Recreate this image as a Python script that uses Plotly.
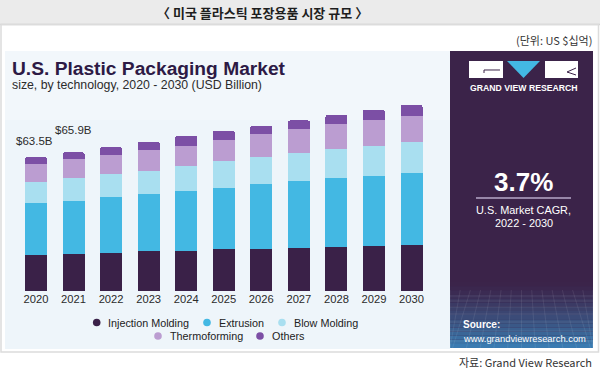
import plotly.graph_objects as go

# ---------------- data ----------------
years = ["2020", "2021", "2022", "2023", "2024", "2025", "2026", "2027", "2028", "2029", "2030"]
injection_molding = [17.1, 17.6, 18.0, 18.9, 19.1, 19.8, 19.8, 20.3, 20.9, 21.4, 21.9]
extrusion = [24.5, 25.3, 26.5, 27.1, 28.5, 29.3, 30.9, 32.0, 32.6, 33.4, 34.3]
blow_molding = [10.0, 10.6, 11.1, 11.2, 11.9, 12.7, 12.8, 13.2, 13.8, 14.2, 14.4]
thermoforming = [8.5, 9.0, 9.0, 9.8, 9.5, 10.0, 10.9, 11.4, 11.9, 12.2, 12.6]
others = [3.4, 3.4, 3.7, 3.9, 4.7, 4.3, 4.1, 4.1, 4.4, 4.8, 5.1]
series_names = ["Injection Molding", "Extrusion", "Blow Molding", "Thermoforming", "Others"]
total_labels = ["$63.5B", "$65.9B"]  # shown above the first two bars

header_title = "〈 미국 플라스틱 포장용품 시장 규모 〉"
unit_text = "(단위: US $십억)"
source_text = "자료: Grand View Research"
chart_title = "U.S. Plastic Packaging Market"
chart_subtitle = "size, by technology, 2020 - 2030 (USD Billion)"
cagr_value = "3.7%"

# ---------------- styling ----------------
W, H = 600, 370
FONT = "Liberation Sans, Arial, sans-serif"
KFONT = "Noto Sans CJK KR, sans-serif"
colors = ["#3a2148", "#43b8e3", "#a9dff0", "#bb9dd1", "#7c4fa5"]
panel_dark = "#3b2349"


def px(x):
    return x / W


def py(y):
    return 1 - y / H


series = [injection_molding, extrusion, blow_molding, thermoforming, others]

fig = go.Figure()
for name, vals, col in zip(series_names, series, colors):
    fig.add_trace(go.Bar(
        x=years, y=vals, name=name,
        marker=dict(color=col, line=dict(width=0)),
        showlegend=False, hoverinfo="x+y+name",
    ))

totals = [round(sum(v), 1) for v in zip(*series)]

shapes = []
annotations = []

# header bar
shapes.append(dict(type="rect", xref="paper", yref="paper", x0=0, x1=1, y0=py(24.5), y1=1,
                   fillcolor="#ebebeb", line=dict(width=0), layer="below"))
shapes.append(dict(type="line", xref="paper", yref="paper", x0=0, x1=1, y0=py(24.5), y1=py(24.5),
                   line=dict(color="#d2d2d2", width=1.5), layer="below"))
# outer box
shapes.append(dict(type="rect", xref="paper", yref="paper", x0=px(1), x1=px(598.5), y0=py(352), y1=py(24.5),
                   fillcolor="rgba(0,0,0,0)", line=dict(color="#dcdcdc", width=1.5), layer="below"))
# light chart panel
shapes.append(dict(type="rect", xref="paper", yref="paper", x0=px(5), x1=px(450), y0=py(349), y1=py(51),
                   fillcolor="#eef5fa", line=dict(width=0), layer="below"))
shapes.append(dict(type="rect", xref="paper", yref="paper", x0=px(5), x1=px(450), y0=py(120), y1=py(51),
                   fillcolor="#f2f7fb", line=dict(width=0), layer="below"))
# dark side panel
shapes.append(dict(type="rect", xref="paper", yref="paper", x0=px(450), x1=px(593), y0=py(348), y1=py(51),
                   fillcolor=panel_dark, line=dict(width=0), layer="below"))


def lerp(c1, c2, t):
    a = [int(c1[i:i + 2], 16) for i in (1, 3, 5)]
    b = [int(c2[i:i + 2], 16) for i in (1, 3, 5)]
    return "rgb(%d,%d,%d)" % tuple(round(a[k] + (b[k] - a[k]) * t) for k in range(3))


n_strips = 16
top_g, bot_g = 282.0, 348.0
for i in range(n_strips):
    y0 = top_g + (bot_g - top_g) * i / n_strips
    y1 = top_g + (bot_g - top_g) * (i + 1) / n_strips
    t = (i + 0.5) / n_strips
    shapes.append(dict(type="rect", xref="paper", yref="paper", x0=px(450), x1=px(593),
                       y0=py(y1), y1=py(y0), fillcolor=lerp(panel_dark, "#3a7fb5", t ** 1.3),
                       line=dict(width=0), layer="below"))
# faint perspective grid
for gy in [296, 301, 307, 314, 322, 331, 341]:
    shapes.append(dict(type="line", xref="paper", yref="paper", x0=px(450), x1=px(593), y0=py(gy), y1=py(gy),
                       line=dict(color="rgba(255,255,255,0.09)", width=1), layer="below"))
for k in range(15):
    xt = 450 + k * 143 / 14
    xb = 521.5 + (xt - 521.5) * 1.35
    xb = min(max(xb, 450), 593)
    shapes.append(dict(type="line", xref="paper", yref="paper", x0=px(xt), x1=px(xb), y0=py(290), y1=py(348),
                       line=dict(color="rgba(255,255,255,0.08)", width=1), layer="below"))

# logo
shapes.append(dict(type="rect", xref="paper", yref="paper", x0=px(469), x1=px(503), y0=py(78), y1=py(61),
                   fillcolor="white", line=dict(width=0)))
shapes.append(dict(type="rect", xref="paper", yref="paper", x0=px(545), x1=px(578), y0=py(78), y1=py(61),
                   fillcolor="white", line=dict(width=0)))
shapes.append(dict(type="path", xref="paper", yref="paper",
                   path="M %f %f L %f %f L %f %f Z" % (px(507), py(61), px(540), py(61), px(523.5), py(78)),
                   fillcolor="#43b8e3", line=dict(width=0)))
shapes.append(dict(type="path", xref="paper", yref="paper",
                   path="M %f %f L %f %f L %f %f" % (px(484), py(73), px(484), py(70), px(500), py(70)),
                   line=dict(color=panel_dark, width=1)))
shapes.append(dict(type="path", xref="paper", yref="paper",
                   path="M %f %f L %f %f L %f %f" % (px(576), py(68), px(567), py(72), px(576), py(75)),
                   line=dict(color=panel_dark, width=1)))
# underline under CAGR
shapes.append(dict(type="line", xref="paper", yref="paper", x0=px(476), x1=px(571), y0=py(198), y1=py(198),
                   line=dict(color="#b7a8c8", width=1.5)))


def text(x, y, s, size, color, xanchor="left", family=FONT, weight="normal"):
    annotations.append(dict(xref="paper", yref="paper", x=px(x), y=py(y), text=s, showarrow=False,
                            xanchor=xanchor, yanchor="middle",
                            font=dict(family=family, size=size, color=color, weight=weight)))


text(262, 12.5, header_title, 13, "#1e1e1e", xanchor="center", family=KFONT, weight="bold")
text(594, 40, unit_text, 11, "#333333", xanchor="right", family=KFONT)
text(594, 362, source_text, 11, "#333333", xanchor="right", family=KFONT)
text(10, 68.5, chart_title, 19.2, "#2d1a45", weight="bold")
text(10, 85.5, chart_subtitle, 12.3, "#2b2b2b")

text(523.5, 88, "GRAND VIEW RESEARCH", 8.7, "white", xanchor="center", weight="bold")
text(523.5, 182, cagr_value, 26, "white", xanchor="center", weight="bold")
text(523.5, 210, "U.S. Market CAGR,", 10.9, "white", xanchor="center")
text(523.5, 222.5, "2022 - 2030", 10.9, "white", xanchor="center")
text(461, 324.5, "Source:", 10, "white", weight="bold")
text(461, 338, "www.grandviewresearch.com", 9.4, "white")

# manual legend (circle markers + labels)
legend_pos = [(96.7, 322.5), (207, 322.5), (282, 322.5), (158, 336), (260, 336)]
for name, col, (lx, ly) in zip(series_names, colors, legend_pos):
    r = 3.8
    shapes.append(dict(type="circle", xref="paper", yref="paper",
                       x0=px(lx - r), x1=px(lx + r), y0=py(ly + r), y1=py(ly - r),
                       fillcolor=col, line=dict(width=0)))
    text(lx + 9.5, ly, name, 10.8, "#222222")

# total labels above first bars (x given as category index)
label_shift = [(-1.5, 8), (-0.5, 14)]
for i, lab in enumerate(total_labels):
    annotations.append(dict(x=i, y=totals[i], xref="x", yref="y", text=lab, showarrow=False,
                            xanchor="center", yanchor="bottom", xshift=label_shift[i][0],
                            yshift=label_shift[i][1],
                            font=dict(family=FONT, size=11.5, color="#2b2b2b")))

fig.update_layout(
    width=W, height=H,
    margin=dict(l=0, r=0, t=0, b=0, autoexpand=False),
    paper_bgcolor="white", plot_bgcolor="rgba(0,0,0,0)",
    barmode="stack", bargap=0.415, barcornerradius=2,
    shapes=shapes, annotations=annotations,
    xaxis=dict(type="category", domain=[17.2 / W, 430.3 / W], range=[-0.5, 10.5],
               showgrid=False, zeroline=False, showline=False, automargin=False,
               ticks="", tickfont=dict(family=FONT, size=11.2, color="#2b2b2b"), fixedrange=True),
    yaxis=dict(domain=[(H - 291) / H, (H - 101.5) / H], range=[0, 90], showgrid=False, zeroline=False,
               showticklabels=False, showline=False, fixedrange=True, automargin=False),
    showlegend=False,
)

fig.write_html("out.html", config={"displayModeBar": False},
               post_script="document.body.style.margin='0';document.body.style.padding='0';")
